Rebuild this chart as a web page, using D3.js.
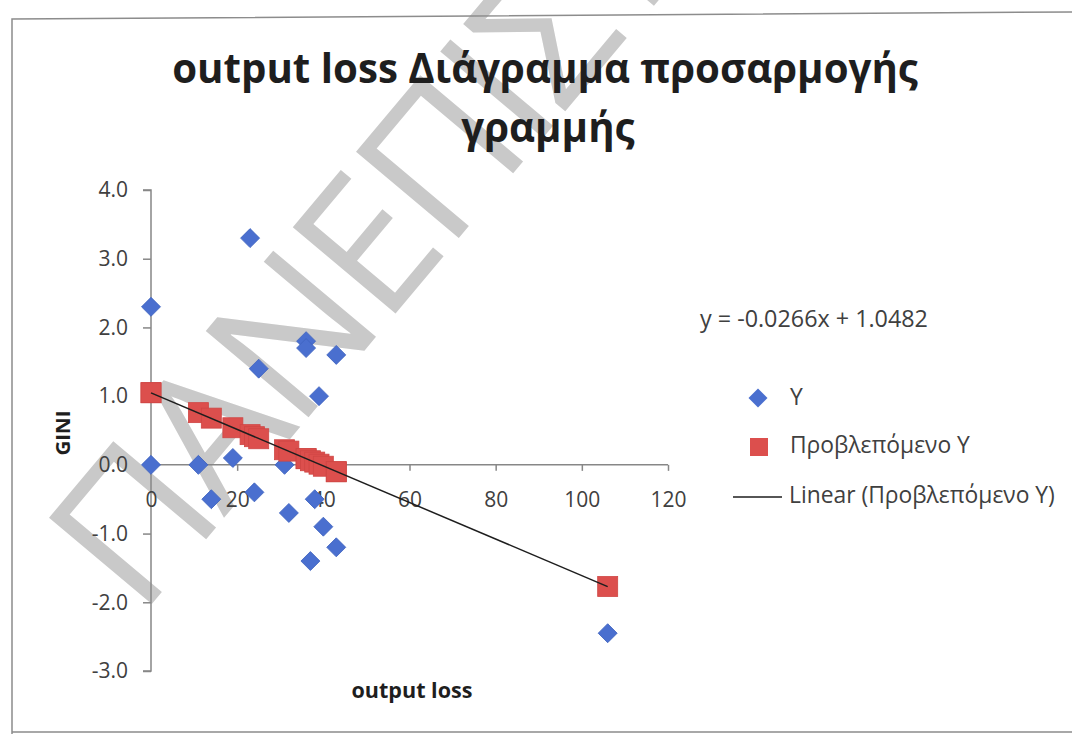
<!DOCTYPE html>
<html>
<head>
<meta charset="utf-8">
<script src="https://cdn.jsdelivr.net/npm/d3@7/dist/d3.min.js"></script>
<style>
  html, body { margin: 0; padding: 0; background: #fff; }
  svg { display: block; }
</style>
</head>
<body>
<svg id="chart" width="1072" height="734"></svg>
<script>
// Observations: output loss (x) against GINI (y)
const outputLoss = [0, 0, 11, 14, 19, 23, 24, 25, 31, 32, 36, 36, 37, 38, 39, 40, 43, 43, 106];
const gini       = [2.3, 0.0, 0.0, -0.5, 0.1, 3.3, -0.4, 1.4, 0.0, -0.7, 1.8, 1.7, -1.4, -0.5, 1.0, -0.9, -1.2, 1.6, -2.45];
// Predicted Y for each observation
const predicted  = [1.05, 1.05, 0.76, 0.68, 0.54, 0.44, 0.41, 0.38, 0.22, 0.20, 0.09, 0.09, 0.06, 0.04, 0.01, -0.02, -0.10, -0.10, -1.77];
// Linear trend of predicted Y
const trendSlope = -0.0266;
const trendIntercept = 1.0482;

const xTicks = [0, 20, 40, 60, 80, 100, 120];
const yTicks = [4, 3, 2, 1, 0, -1, -2, -3];

const titleLines = ["output loss Διάγραμμα προσαρμογής", "γραμμής"];
const xTitle = "output loss";
const yTitle = "GINI";
const legendLabels = ["Y", "Προβλεπόμενο Y", "Linear (Προβλεπόμενο Y)"];
const equationText = "y = -0.0266x + 1.0482";
const watermarkText = "ΠΑΝΕΠΙΣΤΗΜΙΟ";

const FONT = "'Open Sans', Lato, sans-serif";
const BLUE = "#4a6fcf";
const RED = "#dc4f4d";
const AXIS = "#878787";
const TXT = "#404040";
const DARK = "#1e1e1e";

const svg = d3.select("#chart");

// scale a text's font size so that it spans the given width
function fitWidth(sel, width) {
  sel.each(function () {
    const base = parseFloat(this.style.fontSize);
    const len = this.getComputedTextLength();
    if (len > 0) this.style.fontSize = (base * width / len).toFixed(2) + "px";
  });
  return sel;
}

// watermark (beneath the chart content)
svg.append("text")
  .attr("transform", "translate(140,618) rotate(-50)")
  .style("font-family", "'Open Sans', sans-serif").style("font-weight", 400).style("font-size", "188px")
  .style("letter-spacing", "-6px")
  .attr("fill", "#c9c9c9")
  .text(watermarkText);

// chart frame
svg.append("path")
  .attr("d", "M12,734 L12,19 L1072,12 M12,732 L1072,732")
  .attr("fill", "none").attr("stroke", "#8c8c8c").attr("stroke-width", 1.5);

const x = d3.scaleLinear().domain([0, 120]).range([151, 668]);
const y = d3.scaleLinear().domain([-3, 4]).range([671, 190]);

// y axis (at x = 0)
const yAxis = svg.append("g").attr("transform", `translate(${x(0)},0)`)
  .call(d3.axisLeft(y).tickValues(yTicks).tickFormat(d => d.toFixed(1)).tickSize(8).tickPadding(15));
// x axis (crosses at y = 0)
const xAxis = svg.append("g").attr("transform", `translate(0,${y(0)})`)
  .call(d3.axisBottom(x).tickValues(xTicks).tickFormat(d => String(d)).tickSize(6).tickPadding(21));

[yAxis, xAxis].forEach(g => {
  g.select(".domain").attr("stroke", AXIS).attr("stroke-width", 1.5);
  g.selectAll(".tick line").attr("stroke", AXIS).attr("stroke-width", 1.5);
  g.selectAll(".tick text").attr("fill", TXT).style("font-family", FONT).style("font-size", "21px");
});
xAxis.select(".domain").attr("d", `M${x(0)},0H${x(120)}`);
yAxis.select(".domain").attr("d", `M-8,${y(4)}H0V${y(-3)}H-8`);

// Y series: diamonds
const diamond = d3.symbol().type(d3.symbolSquare).size(180);
svg.append("g").selectAll("path")
  .data(outputLoss.map((v, i) => [v, gini[i]]))
  .join("path")
  .attr("d", diamond)
  .attr("transform", d => `translate(${x(d[0])},${y(d[1])}) rotate(45)`)
  .attr("fill", BLUE).attr("stroke", "#3f63bf").attr("stroke-width", 0.8);

// Predicted Y series: squares
svg.append("g").selectAll("rect")
  .data(outputLoss.map((v, i) => [v, predicted[i]]))
  .join("rect")
  .attr("x", d => x(d[0]) - 10).attr("y", d => y(d[1]) - 10)
  .attr("width", 20).attr("height", 20)
  .attr("fill", RED).attr("stroke", "#cf4644").attr("stroke-width", 0.8);

// trend line
const xMin = d3.min(outputLoss), xMax = d3.max(outputLoss);
svg.append("line")
  .attr("x1", x(xMin)).attr("y1", y(trendIntercept + trendSlope * xMin))
  .attr("x2", x(xMax)).attr("y2", y(trendIntercept + trendSlope * xMax))
  .attr("stroke", DARK).attr("stroke-width", 1.5);

// title: both lines share the size that fits the first one
const title = svg.append("g").style("font-family", FONT).style("font-weight", 700).attr("fill", DARK);
const t1 = title.append("text").attr("x", 545).attr("y", 83).attr("text-anchor", "middle")
  .style("font-size", "34px").text(titleLines[0]);
fitWidth(t1, 746);
title.append("text").attr("x", 548).attr("y", 142).attr("text-anchor", "middle")
  .style("font-size", t1.node().style.fontSize).text(titleLines[1]);

// axis titles
fitWidth(svg.append("text").attr("x", 412).attr("y", 698).attr("text-anchor", "middle")
  .style("font-family", FONT).style("font-weight", 700).style("font-size", "20px")
  .attr("fill", DARK).text(xTitle), 121);
fitWidth(svg.append("text").attr("transform", "translate(70,433) rotate(-90)").attr("text-anchor", "middle")
  .style("font-family", FONT).style("font-weight", 700).style("font-size", "20px")
  .attr("fill", DARK).text(yTitle), 45);

// equation of the trend line
fitWidth(svg.append("text").attr("x", 700).attr("y", 327)
  .style("font-family", FONT).style("font-size", "19px").attr("fill", TXT).text(equationText), 228);

// legend
const lg = svg.append("g").style("font-family", FONT);
lg.append("path").attr("d", diamond).attr("transform", "translate(758,398) rotate(45)").attr("fill", BLUE);
lg.append("rect").attr("x", 750).attr("y", 438).attr("width", 18).attr("height", 18).attr("fill", RED);
lg.append("line").attr("x1", 733).attr("x2", 782).attr("y1", 497).attr("y2", 497)
  .attr("stroke", DARK).attr("stroke-width", 1.5);
const lt = lg.selectAll("text").data(legendLabels).join("text")
  .attr("x", (d, i) => i === 2 ? 789 : 790)
  .attr("y", (d, i) => [405, 453, 503][i])
  .style("font-size", "19px")
  .attr("fill", TXT).text(d => d);
fitWidth(lt.filter((d, i) => i === 1), 180);
const legendSize = lt.filter((d, i) => i === 1).node().style.fontSize;
lt.style("font-size", legendSize);
</script>
</body>
</html>
